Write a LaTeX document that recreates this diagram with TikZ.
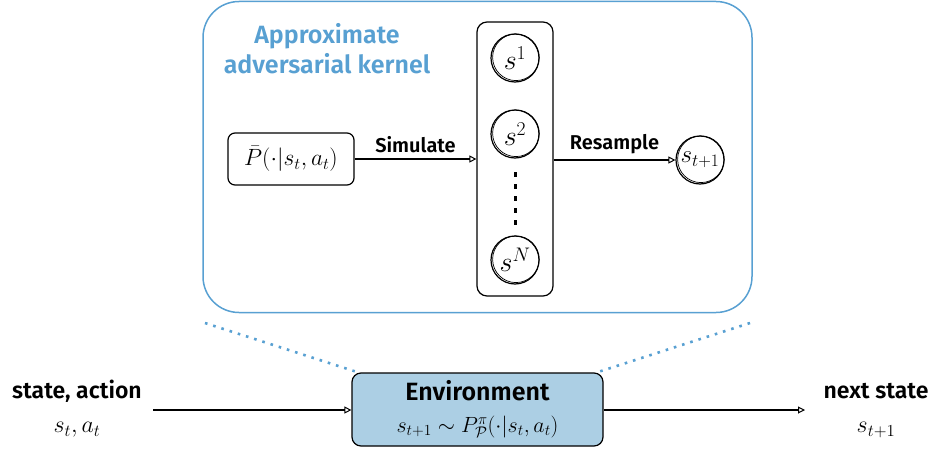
\RequirePackage{fix-cm}
\documentclass[tikz,border=0pt]{standalone}
\usepackage{fontspec}
\setsansfont{Fira Sans}
\newfontfamily\labfont{Fira Sans SemiBold}
\usetikzlibrary{arrows.meta}
\definecolor{kblue}{RGB}{88,160,210}
\definecolor{envfill}{RGB}{172,207,228}
\tikzset{
  ink/.style={line width=1.2pt, draw=black},
  arr/.style={ink, -{Triangle[open, length=7pt, width=7pt, line width=1pt]}},
  rbox/.style={ink, rounded corners=7pt, inner sep=0pt},
  circ/.style={ink, circle, minimum size=48pt, inner sep=0pt},
  sketch/.style={line width=0.7pt, black},
  lab/.style={font=\labfont\fontsize{20}{24}\selectfont},
  biglab/.style={font=\labfont\fontsize{23}{28}\selectfont},
  mth/.style={font=\fontsize{23.5}{28}\selectfont},
  cmth/.style={font=\fontsize{28}{32}\selectfont},
  dotl/.style={kblue, line width=2.6pt, dash pattern=on 2.6pt off 6pt},
}
\begin{document}
\begin{tikzpicture}[x=1pt, y=-1pt]
\useasboundingbox (0,0) rectangle (934,452);
% big outer box
\node[draw=kblue, line width=1.5pt, rounded corners=36pt, minimum width=549pt, minimum height=311pt, inner sep=0pt] (outer) at (477.5,157) {};
\node[align=center, text=kblue, font=\labfont\fontsize{25}{30}\selectfont] (title) at (327,49) {Approximate\\adversarial kernel};
% kernel box
\node[rbox, minimum width=126pt, minimum height=52pt, mth] (pbar) at (291,159) {$\bar P(\cdot|s_t,a_t)$};
% column
\node[rbox, rounded corners=10pt, minimum width=76pt, minimum height=274pt] (col) at (515,159) {};
\node[circ, cmth] (s1) at (515,58) {$s^1$};
\node[circ, cmth] (s2) at (515,134) {$s^2$};
\node[circ, cmth] (sN) at (515,260) {$s^N$};
\draw[ink, black, line width=3pt, dash pattern=on 5pt off 7pt] (515,172) coordinate (dtop) -- (515,228) coordinate (dbot);
% next sample
\node[circ, font=\fontsize{25}{29}\selectfont] (snext) at (700,160) {$s_{t+1}$};
% sketchy second strokes on circles
\foreach \c in {s1,s2,sN,snext}{
  \draw[sketch] ([shift={(0.9,-0.7)}]\c.center) circle[radius=23.3pt];
}
% arrows in kernel
\draw[arr] (pbar.east) -- (pbar.east -| col.west) node[midway, above=2pt, lab] (simlab) {Simulate};
\draw[arr] (col.east |- snext.west) -- (snext.west) node[midway, above=2pt, lab] (reslab) {Resample};
% environment
\node[rbox, fill=envfill, rounded corners=9pt, minimum width=251pt, minimum height=73pt] (env) at (477.5,409.5) {};
\node[font=\labfont\fontsize{25}{30}\selectfont] (envlab) at (477.5,391) {Environment};
\node[font=\fontsize{22}{26}\selectfont] (envf) at (477.5,427) {$s_{t+1}\sim P^{\pi}_{\mathcal{P}}(\cdot|s_t,a_t)$};
% dotted zoom lines
\coordinate (dl1) at (205,323);
\coordinate (dl2) at (357,372);
\coordinate (dr1) at (750,323);
\coordinate (dr2) at (598,372);
\draw[dotl] (dl1) -- (dl2);
\draw[dotl] (dr1) -- (dr2);
% left / right labels
\node[biglab] (sa) at (77,391) {state, action};
\node[font=\fontsize{24}{28}\selectfont] (sam) at (77,430) {$s_t,a_t$};
\node[biglab] (ns) at (876,391) {next state};
\node[font=\fontsize{24}{28}\selectfont] (nsm) at (876,430) {$s_{t+1}$};
\coordinate (inL) at (153,410);
\coordinate (outR) at (805,410);
\draw[arr] (inL) -- (inL -| env.west);
\draw[arr] (env.east |- outR) -- (outR);
\end{tikzpicture}
\end{document}
